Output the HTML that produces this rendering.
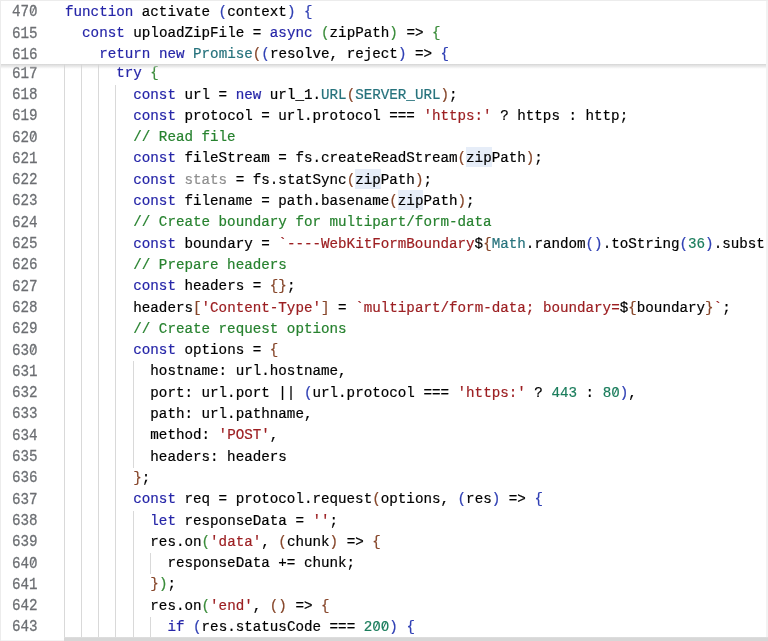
<!DOCTYPE html>
<html><head><meta charset="utf-8"><style>
*{margin:0;padding:0;box-sizing:border-box}
html,body{width:768px;height:641px;overflow:hidden;background:#fff}
body{position:relative;}
#wrap{position:absolute;left:0;top:0;width:768px;height:641px;will-change:transform;font-family:"Liberation Mono",monospace;font-size:14.232px;}
.ln{position:absolute;left:0;width:37.6px;text-align:right;color:#6c6f73;transform:scaleY(1.1);transform-origin:0 14.44px;-webkit-text-stroke:0.25px currentColor;line-height:21.3px;height:21.3px;white-space:pre}
.cl{position:absolute;left:65.0px;transform:scaleY(1.05);transform-origin:0 14.44px;-webkit-text-stroke:0.2px currentColor;line-height:21.3px;height:21.3px;white-space:pre;color:#000}
.g{position:absolute;width:1px;background:#d9d9d9}
.z{position:relative}
.z::before{content:"";position:absolute;left:3.05px;top:5.85px;width:2.5px;height:2.9px;background:#fff}
.z::after{content:"";position:absolute;left:3.63px;top:3.42px;width:1.25px;height:7.4px;background:currentColor;transform:rotate(27deg)}
.hl{position:absolute;background:#e6edf8}
.k{color:#2626a8} .t{color:#26727c} .s{color:#9c1f22} .c{color:#27822f} .n{color:#1b7d5c}
.b1{color:#3040b4} .b2{color:#3a8c3a} .b3{color:#86462a} .u{color:#8e8e8e}
#sticky{position:absolute;left:0;top:0;width:768px;height:63.90px;background:#fff;}
#shadow{position:absolute;left:0;top:63.90px;width:768px;height:5px;background:linear-gradient(#d6d6d6,rgba(255,255,255,0));}
#topb{position:absolute;left:0;top:0;width:768px;height:1px;background:#ececec}
#leftb{position:absolute;left:0;top:0;width:1px;height:641px;background:#ececec}
#hsb{position:absolute;left:64px;top:637px;width:704px;height:4px;background:linear-gradient(#e2e2e2 0,#d7d7d7 1px,#d7d7d7 100%)}
#gb{position:absolute;left:0;top:640px;width:64px;height:1px;background:#f3f3f3}
#vsb{position:absolute;left:766px;top:0;width:2px;height:641px;background:#f2f2f2}
</style></head>
<body><div id="wrap">
<div class="hl" style="left:466.11px;top:147.40px;width:25.62px;height:20px"></div><div class="hl" style="left:355.08px;top:168.70px;width:25.62px;height:20px"></div><div class="hl" style="left:397.78px;top:190.00px;width:25.62px;height:20px"></div>
<div class="g" style="left:64px;top:64.00px;height:20.58px"></div><div class="g" style="left:81px;top:64.00px;height:20.58px"></div><div class="g" style="left:98px;top:64.00px;height:20.58px"></div><div class="g" style="left:64px;top:84.56px;height:21.32px"></div><div class="g" style="left:81px;top:84.56px;height:21.32px"></div><div class="g" style="left:98px;top:84.56px;height:21.32px"></div><div class="g" style="left:115px;top:84.56px;height:21.32px"></div><div class="g" style="left:64px;top:105.86px;height:21.32px"></div><div class="g" style="left:81px;top:105.86px;height:21.32px"></div><div class="g" style="left:98px;top:105.86px;height:21.32px"></div><div class="g" style="left:115px;top:105.86px;height:21.32px"></div><div class="g" style="left:64px;top:127.16px;height:21.32px"></div><div class="g" style="left:81px;top:127.16px;height:21.32px"></div><div class="g" style="left:98px;top:127.16px;height:21.32px"></div><div class="g" style="left:115px;top:127.16px;height:21.32px"></div><div class="g" style="left:64px;top:148.46px;height:21.32px"></div><div class="g" style="left:81px;top:148.46px;height:21.32px"></div><div class="g" style="left:98px;top:148.46px;height:21.32px"></div><div class="g" style="left:115px;top:148.46px;height:21.32px"></div><div class="g" style="left:64px;top:169.76px;height:21.32px"></div><div class="g" style="left:81px;top:169.76px;height:21.32px"></div><div class="g" style="left:98px;top:169.76px;height:21.32px"></div><div class="g" style="left:115px;top:169.76px;height:21.32px"></div><div class="g" style="left:64px;top:191.06px;height:21.32px"></div><div class="g" style="left:81px;top:191.06px;height:21.32px"></div><div class="g" style="left:98px;top:191.06px;height:21.32px"></div><div class="g" style="left:115px;top:191.06px;height:21.32px"></div><div class="g" style="left:64px;top:212.36px;height:21.32px"></div><div class="g" style="left:81px;top:212.36px;height:21.32px"></div><div class="g" style="left:98px;top:212.36px;height:21.32px"></div><div class="g" style="left:115px;top:212.36px;height:21.32px"></div><div class="g" style="left:64px;top:233.66px;height:21.32px"></div><div class="g" style="left:81px;top:233.66px;height:21.32px"></div><div class="g" style="left:98px;top:233.66px;height:21.32px"></div><div class="g" style="left:115px;top:233.66px;height:21.32px"></div><div class="g" style="left:64px;top:254.96px;height:21.32px"></div><div class="g" style="left:81px;top:254.96px;height:21.32px"></div><div class="g" style="left:98px;top:254.96px;height:21.32px"></div><div class="g" style="left:115px;top:254.96px;height:21.32px"></div><div class="g" style="left:64px;top:276.26px;height:21.32px"></div><div class="g" style="left:81px;top:276.26px;height:21.32px"></div><div class="g" style="left:98px;top:276.26px;height:21.32px"></div><div class="g" style="left:115px;top:276.26px;height:21.32px"></div><div class="g" style="left:64px;top:297.56px;height:21.32px"></div><div class="g" style="left:81px;top:297.56px;height:21.32px"></div><div class="g" style="left:98px;top:297.56px;height:21.32px"></div><div class="g" style="left:115px;top:297.56px;height:21.32px"></div><div class="g" style="left:64px;top:318.86px;height:21.32px"></div><div class="g" style="left:81px;top:318.86px;height:21.32px"></div><div class="g" style="left:98px;top:318.86px;height:21.32px"></div><div class="g" style="left:115px;top:318.86px;height:21.32px"></div><div class="g" style="left:64px;top:340.16px;height:21.32px"></div><div class="g" style="left:81px;top:340.16px;height:21.32px"></div><div class="g" style="left:98px;top:340.16px;height:21.32px"></div><div class="g" style="left:115px;top:340.16px;height:21.32px"></div><div class="g" style="left:64px;top:361.46px;height:21.32px"></div><div class="g" style="left:81px;top:361.46px;height:21.32px"></div><div class="g" style="left:98px;top:361.46px;height:21.32px"></div><div class="g" style="left:115px;top:361.46px;height:21.32px"></div><div class="g" style="left:133px;top:361.46px;height:21.32px"></div><div class="g" style="left:64px;top:382.76px;height:21.32px"></div><div class="g" style="left:81px;top:382.76px;height:21.32px"></div><div class="g" style="left:98px;top:382.76px;height:21.32px"></div><div class="g" style="left:115px;top:382.76px;height:21.32px"></div><div class="g" style="left:133px;top:382.76px;height:21.32px"></div><div class="g" style="left:64px;top:404.06px;height:21.32px"></div><div class="g" style="left:81px;top:404.06px;height:21.32px"></div><div class="g" style="left:98px;top:404.06px;height:21.32px"></div><div class="g" style="left:115px;top:404.06px;height:21.32px"></div><div class="g" style="left:133px;top:404.06px;height:21.32px"></div><div class="g" style="left:64px;top:425.36px;height:21.32px"></div><div class="g" style="left:81px;top:425.36px;height:21.32px"></div><div class="g" style="left:98px;top:425.36px;height:21.32px"></div><div class="g" style="left:115px;top:425.36px;height:21.32px"></div><div class="g" style="left:133px;top:425.36px;height:21.32px"></div><div class="g" style="left:64px;top:446.66px;height:21.32px"></div><div class="g" style="left:81px;top:446.66px;height:21.32px"></div><div class="g" style="left:98px;top:446.66px;height:21.32px"></div><div class="g" style="left:115px;top:446.66px;height:21.32px"></div><div class="g" style="left:133px;top:446.66px;height:21.32px"></div><div class="g" style="left:64px;top:467.96px;height:21.32px"></div><div class="g" style="left:81px;top:467.96px;height:21.32px"></div><div class="g" style="left:98px;top:467.96px;height:21.32px"></div><div class="g" style="left:115px;top:467.96px;height:21.32px"></div><div class="g" style="left:64px;top:489.26px;height:21.32px"></div><div class="g" style="left:81px;top:489.26px;height:21.32px"></div><div class="g" style="left:98px;top:489.26px;height:21.32px"></div><div class="g" style="left:115px;top:489.26px;height:21.32px"></div><div class="g" style="left:64px;top:510.56px;height:21.32px"></div><div class="g" style="left:81px;top:510.56px;height:21.32px"></div><div class="g" style="left:98px;top:510.56px;height:21.32px"></div><div class="g" style="left:115px;top:510.56px;height:21.32px"></div><div class="g" style="left:133px;top:510.56px;height:21.32px"></div><div class="g" style="left:64px;top:531.86px;height:21.32px"></div><div class="g" style="left:81px;top:531.86px;height:21.32px"></div><div class="g" style="left:98px;top:531.86px;height:21.32px"></div><div class="g" style="left:115px;top:531.86px;height:21.32px"></div><div class="g" style="left:133px;top:531.86px;height:21.32px"></div><div class="g" style="left:64px;top:553.16px;height:21.32px"></div><div class="g" style="left:81px;top:553.16px;height:21.32px"></div><div class="g" style="left:98px;top:553.16px;height:21.32px"></div><div class="g" style="left:115px;top:553.16px;height:21.32px"></div><div class="g" style="left:133px;top:553.16px;height:21.32px"></div><div class="g" style="left:150px;top:553.16px;height:21.32px"></div><div class="g" style="left:64px;top:574.46px;height:21.32px"></div><div class="g" style="left:81px;top:574.46px;height:21.32px"></div><div class="g" style="left:98px;top:574.46px;height:21.32px"></div><div class="g" style="left:115px;top:574.46px;height:21.32px"></div><div class="g" style="left:133px;top:574.46px;height:21.32px"></div><div class="g" style="left:64px;top:595.76px;height:21.32px"></div><div class="g" style="left:81px;top:595.76px;height:21.32px"></div><div class="g" style="left:98px;top:595.76px;height:21.32px"></div><div class="g" style="left:115px;top:595.76px;height:21.32px"></div><div class="g" style="left:133px;top:595.76px;height:21.32px"></div><div class="g" style="left:64px;top:617.06px;height:21.32px"></div><div class="g" style="left:81px;top:617.06px;height:21.32px"></div><div class="g" style="left:98px;top:617.06px;height:21.32px"></div><div class="g" style="left:115px;top:617.06px;height:21.32px"></div><div class="g" style="left:133px;top:617.06px;height:21.32px"></div><div class="g" style="left:150px;top:617.06px;height:21.32px"></div>
<div class="ln" style="top:63.66px">617</div><div class="cl" style="top:63.26px">      <span class="k">try</span> <span class="b2">{</span></div><div class="ln" style="top:84.96px">618</div><div class="cl" style="top:84.56px">        <span class="k">const</span> url = <span class="k">new</span> url_1.<span class="t">URL</span><span class="b3">(</span><span class="t">SERVER_URL</span><span class="b3">)</span>;</div><div class="ln" style="top:106.26px">619</div><div class="cl" style="top:105.86px">        <span class="k">const</span> protocol = url.protocol === <span class="s">'https:'</span> ? https : http;</div><div class="ln" style="top:127.56px">62<span class="z">0</span></div><div class="cl" style="top:127.16px">        <span class="c">// Read file</span></div><div class="ln" style="top:148.86px">621</div><div class="cl" style="top:148.46px">        <span class="k">const</span> fileStream = fs.createReadStream<span class="b3">(</span>zipPath<span class="b3">)</span>;</div><div class="ln" style="top:170.16px">622</div><div class="cl" style="top:169.76px">        <span class="k">const</span> <span class="u">stats</span> = fs.statSync<span class="b3">(</span>zipPath<span class="b3">)</span>;</div><div class="ln" style="top:191.46px">623</div><div class="cl" style="top:191.06px">        <span class="k">const</span> filename = path.basename<span class="b3">(</span>zipPath<span class="b3">)</span>;</div><div class="ln" style="top:212.76px">624</div><div class="cl" style="top:212.36px">        <span class="c">// Create boundary for multipart/form-data</span></div><div class="ln" style="top:234.06px">625</div><div class="cl" style="top:233.66px">        <span class="k">const</span> boundary = <span class="s">`----WebKitFormBoundary</span>$<span class="b3">{</span><span class="t">Math</span>.random<span class="b1">()</span>.toString<span class="b1">(</span><span class="n">36</span><span class="b1">)</span>.subst</div><div class="ln" style="top:255.36px">626</div><div class="cl" style="top:254.96px">        <span class="c">// Prepare headers</span></div><div class="ln" style="top:276.66px">627</div><div class="cl" style="top:276.26px">        <span class="k">const</span> headers = <span class="b3">{}</span>;</div><div class="ln" style="top:297.96px">628</div><div class="cl" style="top:297.56px">        headers<span class="b3">[</span><span class="s">'Content-Type'</span><span class="b3">]</span> = <span class="s">`multipart/form-data; boundary=</span>$<span class="b3">{</span>boundary<span class="b3">}</span><span class="s">`</span>;</div><div class="ln" style="top:319.26px">629</div><div class="cl" style="top:318.86px">        <span class="c">// Create request options</span></div><div class="ln" style="top:340.56px">63<span class="z">0</span></div><div class="cl" style="top:340.16px">        <span class="k">const</span> options = <span class="b3">{</span></div><div class="ln" style="top:361.86px">631</div><div class="cl" style="top:361.46px">          hostname: url.hostname,</div><div class="ln" style="top:383.16px">632</div><div class="cl" style="top:382.76px">          port: url.port || <span class="b1">(</span>url.protocol === <span class="s">'https:'</span> ? <span class="n">443</span> : <span class="n">8<span class="z">0</span></span><span class="b1">)</span>,</div><div class="ln" style="top:404.46px">633</div><div class="cl" style="top:404.06px">          path: url.pathname,</div><div class="ln" style="top:425.76px">634</div><div class="cl" style="top:425.36px">          method: <span class="s">'POST'</span>,</div><div class="ln" style="top:447.06px">635</div><div class="cl" style="top:446.66px">          headers: headers</div><div class="ln" style="top:468.36px">636</div><div class="cl" style="top:467.96px">        <span class="b3">}</span>;</div><div class="ln" style="top:489.66px">637</div><div class="cl" style="top:489.26px">        <span class="k">const</span> req = protocol.request<span class="b3">(</span>options, <span class="b1">(</span>res<span class="b1">)</span> =&gt; <span class="b1">{</span></div><div class="ln" style="top:510.96px">638</div><div class="cl" style="top:510.56px">          <span class="k">let</span> responseData = <span class="s">''</span>;</div><div class="ln" style="top:532.26px">639</div><div class="cl" style="top:531.86px">          res.on<span class="b2">(</span><span class="s">'data'</span>, <span class="b3">(</span>chunk<span class="b3">)</span> =&gt; <span class="b3">{</span></div><div class="ln" style="top:553.56px">64<span class="z">0</span></div><div class="cl" style="top:553.16px">            responseData += chunk;</div><div class="ln" style="top:574.86px">641</div><div class="cl" style="top:574.46px">          <span class="b3">}</span><span class="b2">)</span>;</div><div class="ln" style="top:596.16px">642</div><div class="cl" style="top:595.76px">          res.on<span class="b2">(</span><span class="s">'end'</span>, <span class="b3">()</span> =&gt; <span class="b3">{</span></div><div class="ln" style="top:617.46px">643</div><div class="cl" style="top:617.06px">            <span class="k">if</span> <span class="b1">(</span>res.statusCode === <span class="n">2<span class="z">0</span><span class="z">0</span></span><span class="b1">)</span> <span class="b1">{</span></div>
<div id="sticky"></div>
<div class="ln" style="top:2.26px">47<span class="z">0</span></div><div class="cl" style="top:1.86px"><span class="k">function</span> activate <span class="b1">(</span>context<span class="b1">)</span> <span class="b1">{</span></div><div class="ln" style="top:23.56px">615</div><div class="cl" style="top:23.16px">  <span class="k">const</span> uploadZipFile = <span class="k">async</span> <span class="b2">(</span>zipPath<span class="b2">)</span> =&gt; <span class="b2">{</span></div><div class="ln" style="top:44.86px">616</div><div class="cl" style="top:44.46px">    <span class="k">return</span> <span class="k">new</span> <span class="t">Promise</span><span class="b3">(</span><span class="b1">(</span>resolve, reject<span class="b1">)</span> =&gt; <span class="b1">{</span></div>
<div id="shadow"></div>
<div id="vsb"></div>
<div id="hsb"></div>
<div id="gb"></div>
<div id="topb"></div>
<div id="leftb"></div>
</div></body></html>
